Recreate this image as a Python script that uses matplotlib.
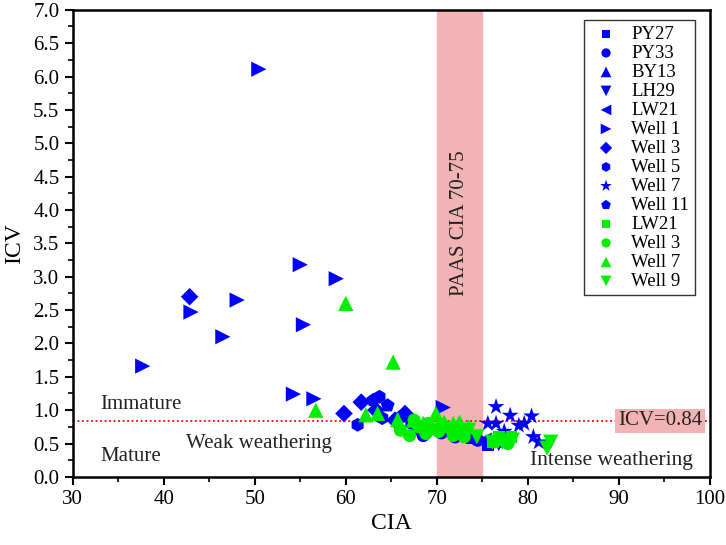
import matplotlib
matplotlib.use('Agg')
import matplotlib.pyplot as plt
from matplotlib.ticker import MultipleLocator

plt.rcParams['font.family'] = ['Liberation Serif', 'DejaVu Serif']

blue = '#0000ff'
green = '#00ee00'

# Blue groups
py27_x = [72.5, 73.8, 75.6, 77.0]
py27_y = [0.62, 0.58, 0.48, 0.52]
py33_x = [68.5, 70.5, 72.0, 74.5]
py33_y = [0.62, 0.66, 0.60, 0.55]
by13_x = [71.0, 73.2]
by13_y = [0.72, 0.65]
lh29_x = [74.0, 76.8]
lh29_y = [0.58, 0.50]
lw21_x = [72.8, 75.2]
lw21_y = [0.70, 0.55]
well1_x = [50.45, 55.0, 58.95, 48.07, 43.0, 55.35, 46.5, 37.7, 54.25, 56.5, 70.7]
well1_y = [6.11, 3.18, 2.97, 2.65, 2.47, 2.28, 2.10, 1.66, 1.24, 1.17, 1.04]
well3_x = [42.85, 59.8, 61.7, 63.3, 66.5, 65.4, 68.0]
well3_y = [2.70, 0.95, 1.12, 1.00, 0.95, 0.85, 0.72]
well5_x = [61.3, 63.7, 64.0, 67.2]
well5_y = [0.78, 1.20, 0.88, 0.80]
well7_x = [75.6, 76.5, 76.5, 77.4, 78.05, 79.0, 79.6, 80.4, 80.6, 81.2]
well7_y = [0.80, 1.05, 0.80, 0.68, 0.92, 0.77, 0.80, 0.91, 0.60, 0.52]
well11_x = [63.0, 64.6, 66.0]
well11_y = [1.15, 1.07, 0.90]

# Green groups
glw21_x = [76.2, 77.5, 78.2, 76.8]
glw21_y = [0.52, 0.55, 0.60, 0.60]
gwell3_x = [66.0, 67.0, 68.0, 68.8, 69.5, 70.2, 71.0, 71.8, 72.5, 73.0, 70.5, 69.0, 67.5, 77.8]
gwell3_y = [0.70, 0.62, 0.75, 0.65, 0.72, 0.68, 0.75, 0.62, 0.70, 0.60, 0.78, 0.80, 0.85, 0.50]
gwell7_x = [56.7, 60.0, 65.2, 62.2, 63.5, 65.7, 67.4, 68.5, 69.9, 70.8, 71.8, 73.5, 72.5]
gwell7_y = [1.00, 2.60, 1.72, 0.93, 0.95, 0.86, 0.85, 0.80, 0.95, 0.82, 0.80, 0.75, 0.82]
gwell9_x = [82.5, 82.1, 74.4, 76.1, 77.2, 78.3, 71.5, 73.5]
gwell9_y = [0.52, 0.43, 0.60, 0.52, 0.52, 0.55, 0.65, 0.70]

groups = [
    ('PY27', 's', blue, py27_x, py27_y),
    ('PY33', 'o', blue, py33_x, py33_y),
    ('BY13', '^', blue, by13_x, by13_y),
    ('LH29', 'v', blue, lh29_x, lh29_y),
    ('LW21', '<', blue, lw21_x, lw21_y),
    ('Well 1', '>', blue, well1_x, well1_y),
    ('Well 3', 'D', blue, well3_x, well3_y),
    ('Well 5', 'h', blue, well5_x, well5_y),
    ('Well 7', '*', blue, well7_x, well7_y),
    ('Well 11', 'p', blue, well11_x, well11_y),
    ('LW21', 's', green, glw21_x, glw21_y),
    ('Well 3', 'o', green, gwell3_x, gwell3_y),
    ('Well 7', '^', green, gwell7_x, gwell7_y),
    ('Well 9', 'v', green, gwell9_x, gwell9_y),
]

fig = plt.figure(figsize=(7.26, 5.45), dpi=100)
ax = fig.add_axes([0.100, 0.125, 0.878, 0.857])

ax.axvspan(70, 75, color='#f2b3b5', zorder=0)
ax.axhline(0.84, color='red', ls=(0, (1, 1.5)), lw=1.3, zorder=1)

sizes = {'s': 70, 'o': 90, '^': 120, 'v': 120, '<': 120, '>': 120,
         'D': 80, 'h': 100, '*': 160, 'p': 110}
for label, m, c, xs, ys in groups:
    ax.scatter(xs, ys, marker=m, s=sizes[m], color=c, edgecolors='none',
               label=label, zorder=3)

txt = '#222222'
ax.text(72.5, 3.8, 'PAAS CIA 70-75', rotation=90, ha='center', va='center',
        fontsize=15, color=txt)
ax.text(94.5, 0.84, 'ICV=0.84', ha='center', va='center', fontsize=15,
        color=txt,
        bbox=dict(boxstyle='square,pad=0.12', fc='#f2b3b5', ec='none'))
ax.text(33.0, 1.09, 'Immature', ha='left', va='center', fontsize=15, color=txt)
ax.text(33.0, 0.31, 'Mature', ha='left', va='center', fontsize=15, color=txt)
ax.text(42.4, 0.50, 'Weak weathering', ha='left', va='center', fontsize=15, color=txt)
ax.text(80.2, 0.25, 'Intense weathering', ha='left', va='center', fontsize=15.5, color=txt)

ax.set_xlim(30, 100)
ax.set_ylim(0, 7)
ax.xaxis.set_major_locator(MultipleLocator(10))
ax.xaxis.set_minor_locator(MultipleLocator(5))
ax.yaxis.set_major_locator(MultipleLocator(0.5))
ax.yaxis.set_minor_locator(MultipleLocator(0.25))
ax.yaxis.set_major_formatter(plt.FormatStrFormatter('%.1f'))
ax.tick_params(which='major', direction='out', length=6, width=1.5, labelsize=15)
ax.tick_params(which='minor', direction='out', length=3.5, width=1.2)
for s in ax.spines.values():
    s.set_linewidth(1.8)

ax.set_xlabel('CIA', fontsize=17, labelpad=3)
ax.set_ylabel('ICV', fontsize=17, labelpad=6)

leg = ax.legend(loc='upper right', fontsize=13.5, frameon=True, fancybox=False,
                edgecolor='black', markerscale=0.7, handletextpad=0.5,
                handlelength=1.7, labelspacing=0.1, borderpad=0.3,
                borderaxespad=0.3, bbox_to_anchor=(0.985, 0.99))
leg.get_frame().set_linewidth(1.0)

fig.savefig('out.png', dpi=100)
